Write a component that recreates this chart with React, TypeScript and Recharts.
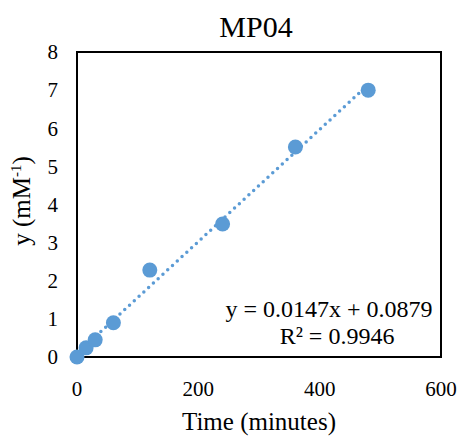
import {
  ReferenceArea,
  ReferenceLine,
  Scatter,
  ScatterChart,
  XAxis,
  YAxis,
} from "recharts";

const times = [0, 15, 30, 60, 120, 240, 360, 480];
const yValues = [0, 0.24, 0.45, 0.9, 2.28, 3.49, 5.51, 7.0];
const xTicks = [0, 200, 400, 600];
const yTicks = [0, 1, 2, 3, 4, 5, 6, 7, 8];

// linear fit shown in the equation label
const slope = 0.0147;
const intercept = 0.0879;
const rSquared = 0.9946;

const points = times.map((t, i) => ({ t, y: yValues[i] }));

const font = "Liberation Serif";
const blue = "#5B9BD5";

const Dot = (props: any) => (
  <circle cx={props.cx} cy={props.cy} r={7.5} fill={blue} />
);

const renderTick = (props: any) => {
  const { x, y, payload, textAnchor } = props;
  return (
    <text
      x={x}
      y={y}
      dy="0.35em"
      textAnchor={textAnchor}
      fontFamily={font}
      fontSize={21}
      fill="#000"
    >
      {payload.value}
    </text>
  );
};

const MP04Chart = () => {
  const lastT = times[times.length - 1];
  return (
    <div style={{ position: "absolute", left: 0, top: 0, background: "#fff" }}>
      <ScatterChart
        width={463}
        height={438}
        margin={{ top: 52, right: 22, bottom: 31, left: 17 }}
      >
        <text
          x={256}
          y={37}
          textAnchor="middle"
          fontFamily={font}
          fontSize={30}
          fill="#000"
        >
          MP04
        </text>
        <text
          x={30}
          y={201}
          transform="rotate(-90, 30, 201)"
          textAnchor="middle"
          fontFamily={font}
          fontSize={25}
          fill="#000"
        >
          y (mM<tspan dy={-9} fontSize={15}>-1</tspan>
          <tspan dy={9}>)</tspan>
        </text>
        <text
          x={259}
          y={430}
          textAnchor="middle"
          fontFamily={font}
          fontSize={25}
          fill="#000"
        >
          Time (minutes)
        </text>
        <XAxis
          type="number"
          dataKey="t"
          domain={[0, 600]}
          ticks={xTicks}
          height={50}
          axisLine={false}
          tickLine={false}
          tick={renderTick}
          tickMargin={26}
        />
        <YAxis
          type="number"
          dataKey="y"
          domain={[0, 8]}
          ticks={yTicks}
          width={60}
          axisLine={false}
          tickLine={false}
          tick={renderTick}
          tickMargin={13}
        />
        <ReferenceArea
          x1={0}
          x2={600}
          y1={0}
          y2={8}
          fill="none"
          stroke="#000"
          strokeWidth={2}
          ifOverflow="visible"
        />
        <ReferenceLine
          segment={[
            { x: 0, y: intercept },
            { x: lastT, y: slope * lastT + intercept },
          ]}
          stroke={blue}
          strokeWidth={3.5}
          strokeDasharray="0 6.5"
          strokeLinecap="round"
        />
        <Scatter
          data={points}
          fill={blue}
          shape={<Dot />}
          isAnimationActive={false}
        />
        <text
          x={329}
          y={317}
          textAnchor="middle"
          fontFamily={font}
          fontSize={24}
          fill="#000"
        >
          y = {slope}x + {intercept}
        </text>
        <text
          x={337}
          y={344}
          textAnchor="middle"
          fontFamily={font}
          fontSize={24}
          fill="#000"
        >
          R² = {rSquared}
        </text>
      </ScatterChart>
    </div>
  );
};

export default MP04Chart;
